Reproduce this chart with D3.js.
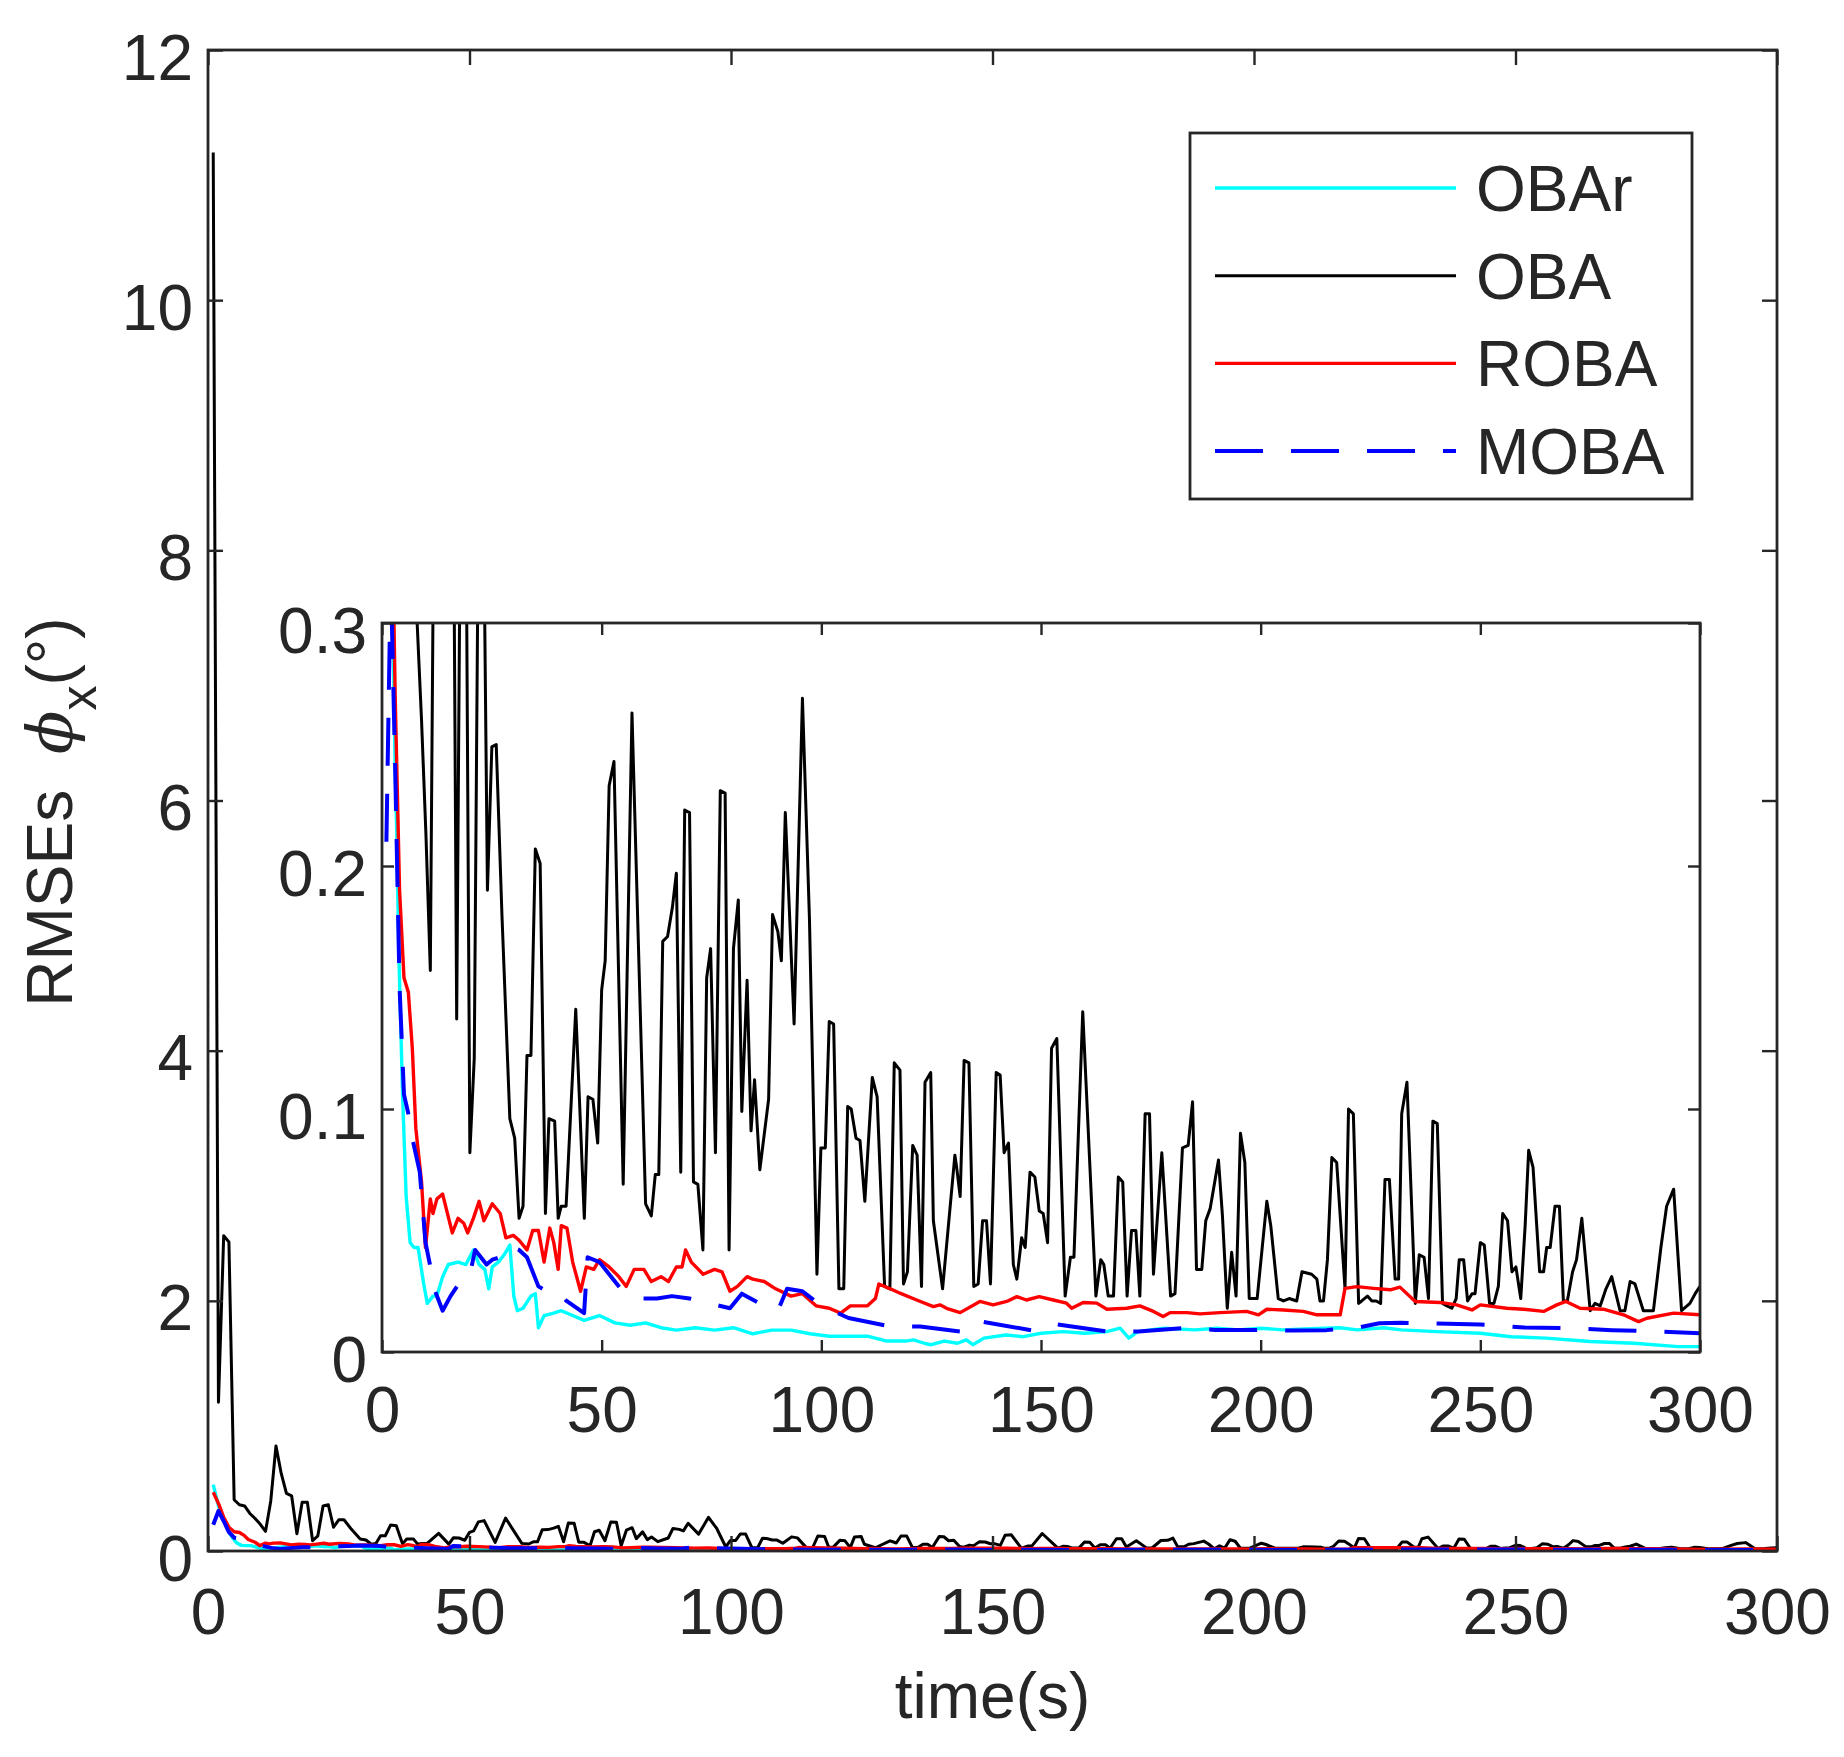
<!DOCTYPE html>
<html><head><meta charset="utf-8">
<script src="https://cdn.jsdelivr.net/npm/d3@7"></script>
<style>
body{margin:0;background:#fff}
text{font-family:"Liberation Sans",Arial,Helvetica,sans-serif;fill:#262626}
</style>
</head><body><svg id="c" width="1844" height="1757"></svg>
<script>
// ---------------- data ----------------
const seriesNames = ["OBAr", "OBA", "ROBA", "MOBA"];
const xTicks = [0, 50, 100, 150, 200, 250, 300];
const yTicksMain = [0, 2, 4, 6, 8, 10, 12];
const yTicksInset = [0, 0.1, 0.2, 0.3];
const xLabel = "time(s)";

const obarT = [1,2,3,3.4,3.8,4.7,5.5,6.4,7.3,8.2,9.5,10.3,11.6,12.5,13.8,15.1,17.3,19.1,20.8,22.1,23.4,24.3,25.1,26.5,27.8,29.1,30,30.8,32.1,33.9,34.9,35.6,36.9,39.1,40.8,43.4,46,49.5,53,56.5,60,63.5,67,71.3,75.7,80,84.4,88.7,93.1,97.4,101.8,106.2,110.5,114.9,119.2,121,123.6,125,128,131,133,134.5,137,142,146,150,155,160,165,168,170,172,178,185,190,195,200,205,210,218,222,228,232,240,250,257,265,275,285,295,300];
const obarV = [0.53,0.36,0.24,0.211,0.166,0.105,0.064,0.045,0.043,0.043,0.028,0.02,0.023,0.023,0.031,0.036,0.037,0.036,0.042,0.036,0.034,0.026,0.035,0.037,0.04,0.044,0.023,0.017,0.018,0.023,0.024,0.01,0.015,0.016,0.017,0.015,0.013,0.015,0.012,0.011,0.012,0.01,0.009,0.01,0.009,0.01,0.0075,0.009,0.009,0.0075,0.0065,0.0065,0.0065,0.0045,0.0045,0.005,0.0035,0.003,0.0045,0.0036,0.005,0.003,0.0057,0.007,0.0063,0.0077,0.0084,0.0077,0.0084,0.0098,0.0057,0.0084,0.0098,0.0091,0.0098,0.0091,0.0098,0.0091,0.0095,0.0100,0.0091,0.0100,0.0091,0.0084,0.0077,0.0063,0.0057,0.0043,0.0036,0.0022,0.0022];

const obaT = [1,2,3,4,5,6,7,8,9,10,11,12,13,14,15,16,17,18,19,20,21,22,23,24,25,26,27.3,29.1,30.2,31.2,32.1,33,33.9,34.9,36,37.2,38,39.3,40.1,40.8,41.9,44.1,46.05,46.9,48,49.1,50,50.8,51.7,52.8,54.9,56.9,60,61.3,62.2,63,63.9,65,66.1,67,68,68.9,70,70.9,71.9,73.05,73.9,74.8,75.9,77,78.1,79,80,81.1,81.9,83.1,84,84.8,86,88,88.9,90.1,90.9,91.8,93.8,95.7,97.3,99,99.9,100.9,101.8,102.8,104,105.1,106,106.8,107.9,108.8,109.9,111.6,112.7,114.4,115.6,116.6,117.9,118.7,119.6,120.8,121.8,122.8,123.6,124.9,125.5,127.6,130.4,130.8,131.6,132.5,133.6,134.7,135.7,136.7,137.6,138.5,139.8,140.7,141.6,142.6,143.7,144.5,145.6,146.4,147.5,148.6,149.6,150.5,151.5,152.4,153.6,155.5,156.7,157.5,159.5,162.5,163.6,164.3,165.3,166.5,167.6,168.6,169.6,170.6,171.6,172.5,173.7,174.7,175.6,177.5,179.5,180.5,182.2,183.5,184.5,185.4,186.6,187.5,188.5,190.4,191.3,192.4,193.4,194.4,195.4,196.4,197.4,199.2,201.4,202.3,204,205.2,206.5,208.2,209.4,211.6,212.8,213.5,214.3,215.2,216.2,217.3,219.2,220,221.1,222.3,223,224.3,225.3,226.3,227.3,228.3,229.3,230.6,231.4,232.1,233.3,235.2,236.1,237.2,238.2,239.2,240.2,241.4,242.4,243.5,244.5,245.2,246.2,247.1,248.1,248.8,250,250.9,252.1,253.1,254.1,255.1,256.2,257.2,258.1,259.2,260.2,261,262,263.5,264.4,265.1,265.9,267,268,268.9,269.8,271,271.9,273.1,275,276.1,277.3,278.6,279.9,281.8,282.9,284.1,285.2,287.1,289.4,291.1,292.4,294,295.8,297.7,298.9,300];
const obaV = [11.18,1.19,2.52,2.47,0.41,0.37,0.36,0.30,0.26,0.213,0.157,0.40,0.84,0.62,0.46,0.44,0.137,0.39,0.39,0.082,0.121,0.36,0.37,0.19,0.249,0.25,0.18,0.096,0.088,0.055,0.06,0.122,0.122,0.207,0.201,0.057,0.096,0.095,0.055,0.06,0.06,0.141,0.055,0.105,0.104,0.086,0.149,0.161,0.233,0.243,0.069,0.263,0.061,0.056,0.073,0.073,0.169,0.171,0.183,0.197,0.074,0.223,0.222,0.07,0.069,0.042,0.154,0.166,0.082,0.231,0.23,0.042,0.166,0.186,0.099,0.153,0.091,0.112,0.075,0.104,0.18,0.173,0.161,0.222,0.135,0.269,0.178,0.032,0.084,0.084,0.136,0.135,0.026,0.026,0.101,0.1,0.088,0.087,0.062,0.113,0.105,0.027,0.026,0.119,0.116,0.028,0.033,0.085,0.081,0.027,0.111,0.115,0.054,0.026,0.081,0.076,0.064,0.12,0.119,0.027,0.028,0.054,0.054,0.028,0.115,0.114,0.082,0.086,0.036,0.030,0.047,0.043,0.074,0.072,0.058,0.057,0.045,0.125,0.129,0.023,0.039,0.039,0.140,0.023,0.038,0.036,0.023,0.023,0.072,0.070,0.023,0.050,0.050,0.023,0.098,0.098,0.032,0.082,0.023,0.024,0.084,0.085,0.103,0.034,0.034,0.054,0.059,0.079,0.056,0.018,0.041,0.023,0.090,0.078,0.022,0.022,0.062,0.052,0.022,0.021,0.022,0.021,0.033,0.032,0.030,0.021,0.021,0.038,0.080,0.078,0.026,0.100,0.098,0.020,0.021,0.023,0.021,0.021,0.020,0.071,0.071,0.030,0.030,0.098,0.111,0.020,0.040,0.039,0.022,0.095,0.094,0.020,0.019,0.018,0.022,0.038,0.038,0.021,0.024,0.024,0.045,0.044,0.020,0.020,0.027,0.057,0.054,0.033,0.035,0.022,0.052,0.083,0.076,0.033,0.033,0.043,0.043,0.060,0.060,0.021,0.021,0.033,0.038,0.055,0.017,0.020,0.019,0.026,0.031,0.017,0.017,0.029,0.028,0.017,0.017,0.043,0.060,0.067,0.017,0.020,0.024,0.027];

const robaT = [1,2,3,4,5,6,6.9,7.7,9,9.9,11,11.6,12.5,13.8,16,17.3,18.6,19.5,20.8,22.1,23.2,25.1,26.9,28.2,29.9,31.2,33,34.3,35.6,36.9,38.2,39.1,40.1,40.8,42.1,43.4,45.2,46.5,48.2,49.5,51.7,53.9,55.6,57.4,59.6,61.3,63.5,65.2,67,68.3,69.1,70.4,73.1,75.7,77.4,79.2,80.9,83.1,84.4,87,89.6,93.1,95.7,98.8,101.8,104.4,106.6,110.5,112.3,113.1,115.7,117.9,121.7,125.5,127,128.5,131.6,136.1,139.1,142.2,144.5,146.7,149.6,152.8,155.8,157,159.6,162.7,165,169.5,172.5,175.6,177.8,179.4,183.2,186.2,190.7,196.8,199.5,201.4,205.2,209.7,212.8,218.1,219.2,221.9,225.7,229.5,231.7,235.2,240.8,244.6,248.1,250,256,259.8,264.4,267.4,269.5,272.7,278,282.6,286,287.9,294,300];
const robaV = [0.47,0.38,0.27,0.19,0.154,0.148,0.125,0.092,0.07,0.043,0.063,0.057,0.063,0.065,0.049,0.055,0.053,0.049,0.055,0.062,0.054,0.061,0.057,0.047,0.048,0.046,0.042,0.05,0.05,0.037,0.051,0.045,0.034,0.052,0.051,0.037,0.025,0.035,0.034,0.038,0.035,0.031,0.027,0.034,0.034,0.029,0.031,0.029,0.035,0.035,0.042,0.037,0.032,0.034,0.033,0.025,0.027,0.031,0.03,0.029,0.026,0.023,0.024,0.019,0.018,0.016,0.019,0.019,0.022,0.028,0.026,0.0242,0.0214,0.0187,0.0194,0.018,0.0162,0.0208,0.0194,0.0208,0.0228,0.0214,0.0228,0.0214,0.0201,0.018,0.0204,0.0201,0.0176,0.018,0.019,0.0167,0.0146,0.0162,0.0162,0.0157,0.0162,0.0167,0.0153,0.0176,0.0173,0.0167,0.0153,0.0153,0.0262,0.0269,0.0262,0.0256,0.0267,0.0208,0.0204,0.0194,0.0173,0.0194,0.018,0.0176,0.0167,0.0194,0.0208,0.018,0.0176,0.0153,0.0125,0.0139,0.016,0.0153];

const mobaT = [1,2,3,4,5,6,6.9,8.6,9.9,10.8,12.1,13.8,15.6,18.2,19.9,21.2,22.5,23.8,25.1,26.9,28.6,31.2,33,35.6,37.5,39.1,42,46,46.8,49.5,54.8,58.2,62.6,66,70,79.2,81.9,86,90.1,92.2,95.7,100,106.2,115.7,122.5,133.5,136.5,148.6,153,165.3,172.2,182.4,189.6,200.2,207,215,222,227,232,240,250,260,270,280,290,300];
const mobaV = [0.21,0.32,0.24,0.15,0.106,0.098,0.088,0.074,0.045,0.037,0.025,0.017,0.023,0.030,0.031,0.042,0.039,0.036,0.038,0.039,0.044,0.042,0.039,0.027,0.025,0.026,0.021,0.016,0.039,0.037,0.025,0.022,0.022,0.023,0.022,0.018,0.024,0.020,0.017,0.026,0.025,0.019,0.014,0.0105,0.0105,0.0080,0.0125,0.0087,0.0115,0.0084,0.0084,0.0098,0.0091,0.0091,0.0088,0.0090,0.0100,0.0118,0.0120,0.0117,0.0113,0.0101,0.0098,0.0090,0.0085,0.0077];

// ---------------- drawing ----------------
const svg = d3.select("#c");
svg.append("rect").attr("width",1844).attr("height",1757).attr("fill","#fff");
const AX = "#262626";
const FS = 64;

const series = [
  {name: seriesNames[0], t: obarT, v: obarV, color: "#00FFFF", w: 3.4, dash: null},
  {name: seriesNames[1], t: obaT,  v: obaV,  color: "#000000", w: 3.0, dash: null},
  {name: seriesNames[2], t: robaT, v: robaV, color: "#FF0000", w: 3.4, dash: null},
  {name: seriesNames[3], t: mobaT, v: mobaV, color: "#0000FF", w: 4.0, dash: "48,28"}
];

function panel(g, id, x, y, yTicks, yFmt, tickLen, xPad) {
  const [x0, x1] = x.range(), [y0, y1] = y.range();
  g.append("rect").attr("x",x0).attr("y",y1).attr("width",x1-x0).attr("height",y0-y1).attr("fill","#fff");
  svg.append("defs").append("clipPath").attr("id",id)
    .append("rect").attr("x",x0).attr("y",y1).attr("width",x1-x0).attr("height",y0-y1);
  const lines = g.append("g").attr("clip-path",`url(#${id})`);
  series.forEach(s => {
    const pts = s.t.map((t,i)=>[t, s.v[i]]);
    const line = d3.line().x(d=>x(d[0])).y(d=>y(d[1]));
    lines.append("path").attr("d", line(pts)).attr("fill","none")
      .attr("stroke", s.color).attr("stroke-width", s.w)
      .attr("stroke-dasharray", s.dash).attr("stroke-linejoin","round");
  });
  const style = sel => {
    sel.select(".domain").remove();
    sel.selectAll("line").attr("stroke",AX).attr("stroke-width",2.4);
    sel.selectAll("text").attr("fill",AX).attr("font-size",FS)
      .attr("font-family",'"Liberation Sans",Arial,sans-serif');
  };
  g.append("g").attr("transform",`translate(0,${y0})`)
    .call(d3.axisBottom(x).tickValues(xTicks).tickSizeInner(-tickLen).tickSizeOuter(0).tickPadding(xPad))
    .call(style);
  g.append("g").attr("transform",`translate(0,${y1})`)
    .call(d3.axisTop(x).tickValues(xTicks).tickSizeInner(-tickLen).tickSizeOuter(0).tickFormat(""))
    .call(style);
  const la = g.append("g").attr("transform",`translate(${x0},0)`)
    .call(d3.axisLeft(y).tickValues(yTicks).tickFormat(yFmt).tickSizeInner(-tickLen).tickSizeOuter(0).tickPadding(15))
    .call(style);
  la.selectAll("text").attr("dy", null).attr("y", 29);
  g.append("g").attr("transform",`translate(${x1},0)`)
    .call(d3.axisRight(y).tickValues(yTicks).tickSizeInner(-tickLen).tickSizeOuter(0).tickFormat(""))
    .call(style);
  g.append("rect").attr("x",x0).attr("y",y1).attr("width",x1-x0).attr("height",y0-y1)
    .attr("fill","none").attr("stroke",AX).attr("stroke-width",2.8);
}

// main
const xMain = d3.scaleLinear().domain([0,300]).range([208,1777]);
const yMain = d3.scaleLinear().domain([0,12]).range([1551,50]);
panel(svg.append("g"), "clipMain", xMain, yMain, yTicksMain, d3.format("d"), 15, 38);

// legend
const lg = svg.append("g");
const lgX0 = 1190, lgX1 = 1692, lgY0 = 133, lgY1 = 499;
lg.append("rect").attr("x",lgX0).attr("y",lgY0).attr("width",lgX1-lgX0).attr("height",lgY1-lgY0)
  .attr("fill","#fff").attr("stroke",AX).attr("stroke-width",2.8);
const rowY = d3.scalePoint().domain(seriesNames).range([188,451]);
series.forEach(s => {
  const yy = rowY(s.name);
  lg.append("line").attr("x1",1215).attr("x2",1456).attr("y1",yy).attr("y2",yy)
    .attr("stroke",s.color).attr("stroke-width",s.w).attr("stroke-dasharray",s.dash);
  lg.append("text").attr("x",1476).attr("y",yy+23).attr("font-size",FS).attr("fill","#000").text(s.name);
});

// inset
const xIn = d3.scaleLinear().domain([0,300]).range([382,1700]);
const yIn = d3.scaleLinear().domain([0,0.3]).range([1352,623]);
panel(svg.append("g"), "clipInset", xIn, yIn, yTicksInset, d => d===0 ? "0" : d3.format(".1f")(d), 12, 35);

// axis labels
svg.append("text").attr("x",(208+1777)/2).attr("y",1718).attr("text-anchor","middle")
  .attr("font-size",FS).text(xLabel);
const yl = svg.append("text").attr("transform","translate(72,812) rotate(-90)")
  .attr("text-anchor","middle").attr("font-size",FS).style("white-space","pre");
yl.append("tspan").text("RMSEs  ");
yl.append("tspan").text("ϕ").attr("font-style","italic").attr("font-family","DejaVu Serif").attr("font-weight",300);
yl.append("tspan").text("x").attr("font-size",50).attr("dy",24);
yl.append("tspan").text("(°)").attr("dy",-24);
</script>
</body></html>
